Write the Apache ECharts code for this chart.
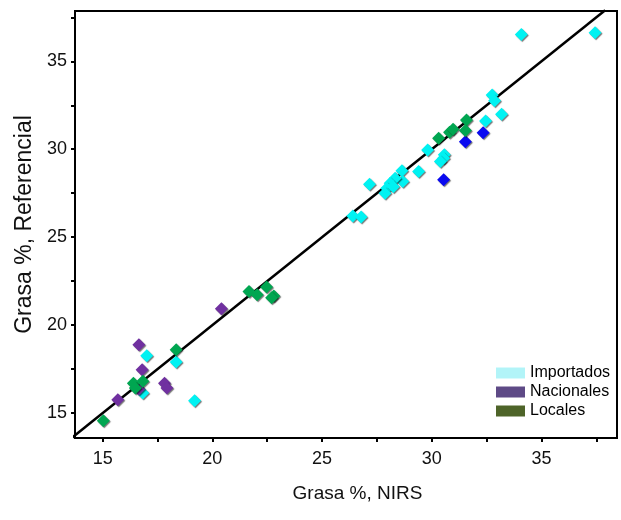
<!DOCTYPE html>
<html>
<head>
<meta charset="utf-8">
<script src="https://cdn.jsdelivr.net/npm/echarts@6/dist/echarts.min.js"></script>
<style>html,body{margin:0;padding:0;background:#fff;}#c{width:621px;height:520px;}</style>
</head>
<body>
<div id="c"></div>
<script>
// ---- data (Grasa % NIRS, Grasa % Referencial) ----
var importados = [[34.08,36.53],[37.44,36.63],[32.75,33.09],[32.86,32.76],[33.18,31.99],[32.45,31.61],
  [29.81,29.96],[30.57,29.68],[30.54,29.49],[30.39,29.30],[29.40,28.73],[28.64,28.77],[28.68,28.16],
  [28.33,28.35],[28.10,28.07],[27.95,27.78],[27.87,27.50],[28.25,27.87],[27.16,28.01],[26.40,26.21],
  [26.78,26.14],[16.83,16.14],[17.01,18.26],[18.35,17.90],[19.19,15.70]];
var otros = [[31.53,30.43],[32.34,30.94],[30.54,28.26]];
var nacionales = [[15.69,15.76],[16.65,16.36],[16.80,17.46],[16.65,18.88],[17.82,16.70],[17.93,16.42],[20.41,20.93]];
var locales = [[15.03,14.56],[16.40,16.70],[16.49,16.42],[16.83,16.80],[18.35,18.60],[21.67,21.91],[22.04,21.72],
  [22.47,22.16],[22.80,21.66],[22.70,21.55],[30.31,30.63],[30.81,30.97],[30.97,31.13],[31.58,31.66],[31.53,31.06]];
var identityLine = [[13.6,13.6],[37.9,37.9]];
var tickLabels = [15, 20, 25, 30, 35];
var tickMarks = [15, 17.5, 20, 22.5, 25, 27.5, 30, 32.5, 35, 37.5];
var legendNames = ['Importados', 'Nacionales', 'Locales'];
var legendColors = ['#b2f4f8', '#5e4a86', '#4e6429'];

var font = '"Liberation Sans", Arial, sans-serif';
var chart = echarts.init(document.getElementById('c'));
function sc(name, data, color) {
  return {
    name: name, type: 'scatter', data: data, symbol: 'diamond', symbolSize: 13,
    itemStyle: { color: color, opacity: 1, shadowColor: 'rgba(0,0,0,0.55)', shadowBlur: 1, shadowOffsetX: 1, shadowOffsetY: 1 },
    z: 3
  };
}
chart.setOption({
  animation: false,
  grid: { left: 75, top: 11, right: 4, bottom: 82, show: true, borderColor: '#000', borderWidth: 2 },
  legend: {
    orient: 'vertical', left: 491, top: 360, itemWidth: 29, itemHeight: 11, itemGap: 3, icon: 'rect',
    selectedMode: false,
    textStyle: { fontFamily: font, fontSize: 16, color: '#000' },
    data: legendNames.map(function (n, i) {
      return { name: n, itemStyle: { color: legendColors[i], opacity: 1, shadowBlur: 0, shadowOffsetX: 0, shadowOffsetY: 0, shadowColor: 'transparent' } };
    })
  },
  xAxis: {
    type: 'value', min: 13.74, max: 38.44,
    name: 'Grasa %, NIRS', nameLocation: 'middle', nameGap: 46,
    nameTextStyle: { fontFamily: font, fontSize: 19, color: '#111', padding: [0, 0, 0, 23] },
    axisLine: { lineStyle: { color: '#000', width: 2 } },
    axisTick: { show: true, inside: false, length: 4, lineStyle: { width: 2, color: '#000' }, customValues: tickMarks },
    axisLabel: { fontFamily: font, fontSize: 18, color: '#111', margin: 12, customValues: tickLabels },
    splitLine: { show: false }
  },
  yAxis: {
    type: 'value', min: 13.58, max: 37.86,
    name: 'Grasa %, Referencial', nameLocation: 'middle', nameGap: 38, nameRotate: 90,
    nameTextStyle: { fontFamily: font, fontSize: 23, color: '#111' },
    axisLine: { lineStyle: { color: '#000', width: 2 } },
    axisTick: { show: true, inside: false, length: 4, lineStyle: { width: 2, color: '#000' }, customValues: tickMarks },
    axisLabel: { fontFamily: font, fontSize: 18, color: '#111', margin: 8, customValues: tickLabels },
    splitLine: { show: false }
  },
  series: [
    { type: 'line', data: identityLine, symbol: 'none', silent: true, clip: false,
      lineStyle: { color: '#000', width: 2.5 }, z: 2 },
    sc('Importados', importados, '#00f2f2'),
    sc('Otros', otros, '#0a0af0'),
    sc('Nacionales', nacionales, '#7030a0'),
    sc('Locales', locales, '#00a651')
  ]
});
</script>
</body>
</html>
